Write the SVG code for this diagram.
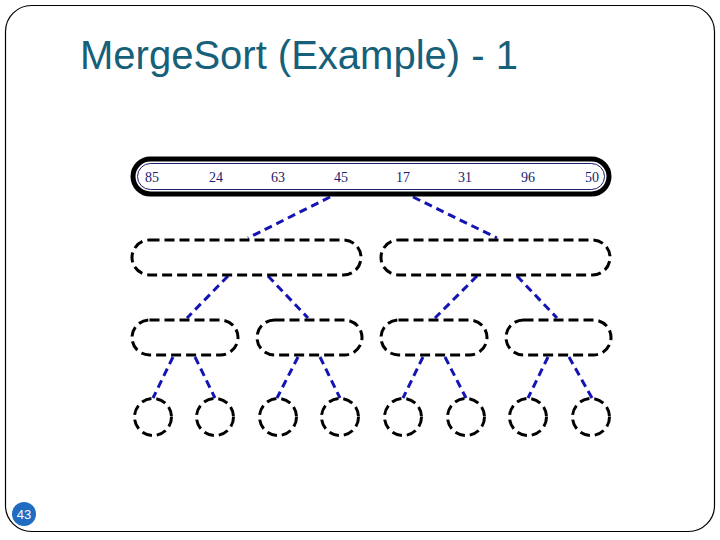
<svg xmlns="http://www.w3.org/2000/svg" width="720" height="540" viewBox="0 0 720 540">
<style>
.dash{fill:none;stroke:#000;stroke-width:3;stroke-dasharray:10 5}
.conn line{stroke:#1414b4;stroke-width:3;stroke-dasharray:8 5}
.num{font-family:"Liberation Serif",serif;font-size:14px;fill:#1a1a6e;text-anchor:middle}
</style>
<rect x="5.5" y="5.5" width="709" height="526" rx="26" fill="#fff" stroke="#000" stroke-width="1.2"/>
<text x="80" y="69" font-family="Liberation Sans,Arial,sans-serif" font-size="40" fill="#17607a">MergeSort (Example) - 1</text>
<g id="conns" class="conn">
<line x1="330" y1="197" x2="248" y2="238"/>
<line x1="413" y1="197" x2="497" y2="238"/>
<line x1="228" y1="276" x2="187" y2="318"/>
<line x1="268" y1="276" x2="308" y2="318"/>
<line x1="477" y1="276" x2="435" y2="318"/>
<line x1="517" y1="276" x2="557" y2="318"/>
<line x1="173" y1="357" x2="153" y2="398"/>
<line x1="195" y1="357" x2="215" y2="398"/>
<line x1="298" y1="357" x2="277" y2="398"/>
<line x1="320" y1="357" x2="340" y2="398"/>
<line x1="423" y1="357" x2="403" y2="398"/>
<line x1="445" y1="357" x2="466" y2="398"/>
<line x1="548" y1="357" x2="528" y2="398"/>
<line x1="569" y1="357" x2="592" y2="398"/>
</g>
<g id="root">
<rect x="133" y="159" width="476" height="35" rx="17.5" fill="#fff" stroke="#000" stroke-width="5"/>
<rect x="137.5" y="163.5" width="467" height="26" rx="13" fill="none" stroke="#1a1a6e" stroke-width="1"/>
<text class="num" x="152" y="182">85</text>
<text class="num" x="216" y="182">24</text>
<text class="num" x="278" y="182">63</text>
<text class="num" x="341" y="182">45</text>
<text class="num" x="403" y="182">17</text>
<text class="num" x="465" y="182">31</text>
<text class="num" x="528" y="182">96</text>
<text class="num" x="592" y="182">50</text>
</g>
<g id="l2a"><rect class="dash" x="132" y="240" width="229" height="35" rx="17.5"/></g>
<g id="l2b"><rect class="dash" x="381" y="240" width="229" height="35" rx="17.5"/></g>
<g id="l3a"><rect class="dash" x="132" y="320" width="106" height="35" rx="17.5"/></g>
<g id="l3b"><rect class="dash" x="257" y="320" width="105" height="35" rx="17.5"/></g>
<g id="l3c"><rect class="dash" x="381" y="320" width="106" height="35" rx="17.5"/></g>
<g id="l3d"><rect class="dash" x="506" y="320" width="105" height="35" rx="17.5"/></g>
<g id="l4a"><circle class="dash" cx="153" cy="417" r="18.5"/></g>
<g id="l4b"><circle class="dash" cx="215" cy="417" r="18.5"/></g>
<g id="l4c"><circle class="dash" cx="278" cy="417" r="18.5"/></g>
<g id="l4d"><circle class="dash" cx="340" cy="417" r="18.5"/></g>
<g id="l4e"><circle class="dash" cx="403" cy="417" r="18.5"/></g>
<g id="l4f"><circle class="dash" cx="466" cy="417" r="18.5"/></g>
<g id="l4g"><circle class="dash" cx="528" cy="417" r="18.5"/></g>
<g id="l4h"><circle class="dash" cx="591" cy="417" r="18.5"/></g>
<g id="pagenum">
<circle cx="24" cy="514" r="12" fill="#1f6cc0"/>
<text x="24" y="519" font-family="Liberation Sans,Arial,sans-serif" font-size="13" fill="#fff" text-anchor="middle">43</text>
</g>
</svg>
